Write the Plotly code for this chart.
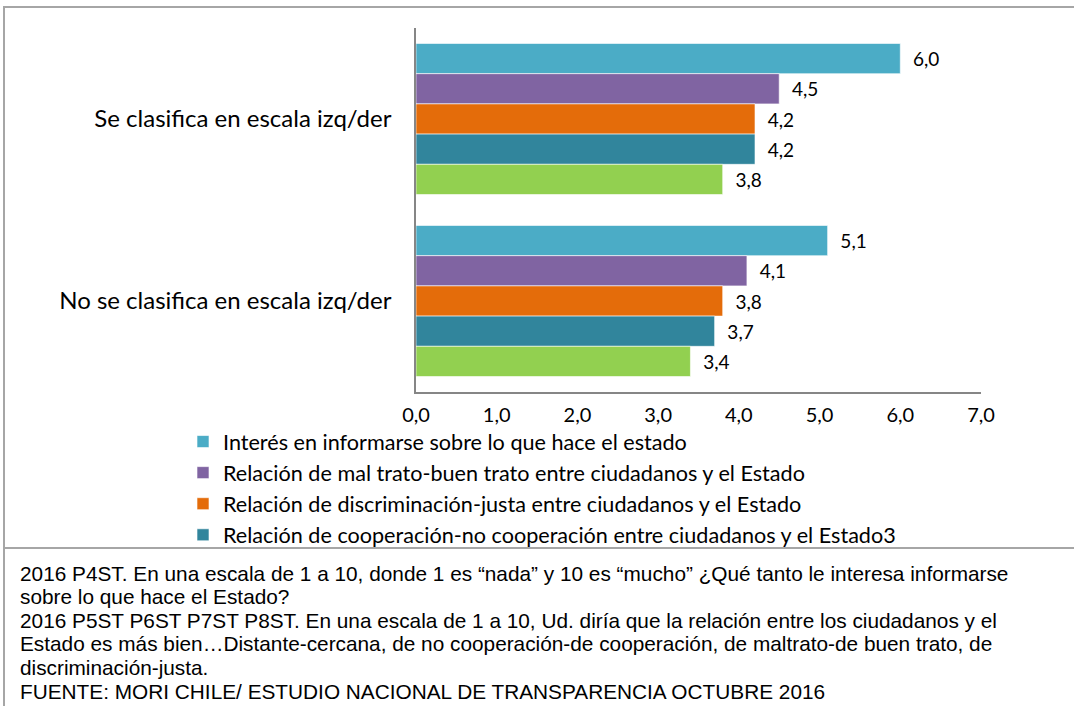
import plotly.graph_objects as go

categories = ["Se clasifica en escala izq/der", "No se clasifica en escala izq/der"]
series_names = [
    "Interés en informarse sobre lo que hace el estado",
    "Relación de mal trato-buen trato entre ciudadanos y el Estado",
    "Relación de discriminación-justa entre ciudadanos y el Estado",
    "Relación de cooperación-no cooperación entre ciudadanos y el Estado3",
    "Relación distante-cercana entre ciudadanos y el Estado",
]
series_values = [
    [6.0, 5.1],
    [4.5, 4.1],
    [4.2, 3.8],
    [4.2, 3.7],
    [3.8, 3.4],
]
colors = ["#4BACC6", "#8064A2", "#E46C0A", "#31859C", "#92D050"]
show_in_legend = [True, True, True, True, False]
x_ticks = [0, 1, 2, 3, 4, 5, 6, 7]

footnote_lines = [
    "2016 P4ST. En una escala de 1 a 10, donde 1 es “nada” y 10 es “mucho” ¿Qué tanto le interesa informarse",
    "sobre lo que hace el Estado?",
    "2016 P5ST P6ST P7ST P8ST. En una escala de 1 a 10, Ud. diría que la relación entre los ciudadanos y el",
    "Estado es más bien…Distante-cercana, de no cooperación-de cooperación, de maltrato-de buen trato, de",
    "discriminación-justa.",
    "FUENTE: MORI CHILE/ ESTUDIO NACIONAL DE TRANSPARENCIA OCTUBRE 2016",
]

W, H = 1074, 706
FONT = "Lato, Carlito, Calibri, sans-serif"

fig = go.Figure()
for i, (name, vals) in enumerate(zip(series_names, series_values)):
    fig.add_trace(go.Bar(
        y=categories, x=vals, name=name, orientation="h",
        marker=dict(color=colors[i], line=dict(color="rgba(255,255,255,0.6)", width=1)),
        text=vals, texttemplate="  %{x:.1f}", textposition="outside",
        textfont=dict(family=FONT, size=19, color="#000000"),
        cliponaxis=False, showlegend=show_in_legend[i], legendgroup=f"g{i}",
    ))

def px(x):
    return x / W

def py(y):
    return 1 - y / H

shapes = [
    dict(type="rect", xref="paper", yref="paper", x0=px(4), x1=px(1080), y0=py(548), y1=py(7),
         line=dict(color="#A6A6A6", width=2), layer="below"),
    dict(type="line", xref="paper", yref="paper", x0=px(4), x1=px(4), y0=py(548), y1=py(710),
         line=dict(color="#A6A6A6", width=2)),
]

annotations = []
y0 = 573
for k, line in enumerate(footnote_lines):
    annotations.append(dict(
        xref="paper", yref="paper", x=px(18), y=py(y0 + k * 23.6), xanchor="left", yanchor="middle",
        text=line, showarrow=False,
        font=dict(family="Liberation Sans Narrow, Arial Narrow, Liberation Sans, sans-serif", size=20.8, color="#000000"),
    ))

fig.update_layout(
    width=W, height=H,
    margin=dict(l=0, r=0, t=0, b=0, autoexpand=False),
    paper_bgcolor="white", plot_bgcolor="white",
    barmode="group", bargap=0.17, bargroupgap=0.0,
    separators=",.",
    font=dict(family=FONT, color="#000000"),
    xaxis=dict(domain=[px(416), px(981)], range=[0, 7], tickvals=x_ticks, tickformat=".1f",
               showgrid=False, zeroline=False, showline=True, linecolor="#868686", linewidth=1.5,
               ticks="", tickfont=dict(family=FONT, size=20), ticklabelstandoff=4, automargin=False),
    yaxis=dict(domain=[py(392), py(28)], autorange="reversed", showgrid=False, zeroline=False,
               showline=True, linecolor="#868686", linewidth=1.5, ticks="",
               tickfont=dict(family=FONT, size=24), ticklabelstandoff=18, automargin=False),
    legend=dict(x=px(183), y=py(421), xanchor="left", yanchor="top", orientation="v",
                font=dict(family=FONT, size=21.6), tracegroupgap=0, bgcolor="rgba(0,0,0,0)",
                itemwidth=30),
    shapes=shapes, annotations=annotations,
)

fig.write_html("out.html", config={"displayModeBar": False},
               post_script="document.body.style.margin='0';document.body.style.padding='0';document.documentElement.style.overflow='hidden';")
